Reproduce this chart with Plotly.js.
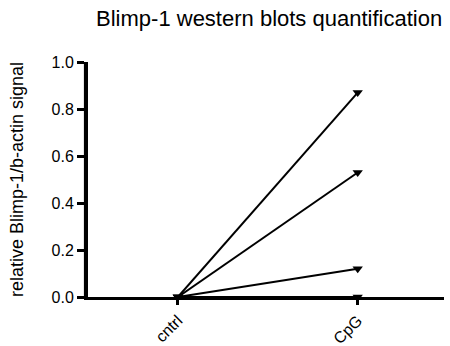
<!DOCTYPE html>
<html>
<head>
<meta charset="utf-8">
<script src="https://cdn.plot.ly/plotly-3.0.1.min.js"></script>
<style>
html,body{margin:0;padding:0;background:#fff;}
#chart{width:450px;height:346px;}
</style>
</head>
<body>
<div id="chart"></div>
<script>
var categories = ['cntrl', 'CpG'];
var cntrlValues = [0, 0, 0, 0];
var cpgValues = [0.87, 0.53, 0.12, 0.0];
var yTickVals = [0, 0.2, 0.4, 0.6, 0.8, 1.0];
var yTickText = ['0.0', '0.2', '0.4', '0.6', '0.8', '1.0'];

var traces = cntrlValues.map(function (c, i) {
  return {
    type: 'scatter',
    mode: 'lines+markers',
    x: categories,
    y: [c, cpgValues[i]],
    line: {color: '#000', width: 2},
    marker: {symbol: 'triangle-down', size: 9, color: '#000'},
    cliponaxis: false,
    showlegend: false
  };
});

var layout = {
  width: 450, height: 346,
  margin: {l: 88, r: 6, t: 62, b: 49},
  paper_bgcolor: '#fff', plot_bgcolor: '#fff',
  font: {family: 'Liberation Sans, Arial, sans-serif', color: '#000'},
  title: {text: 'Blimp-1 western blots quantification', font: {size: 22, color: '#000'}, x: 0.598, xanchor: 'center', y: 0.948, yanchor: 'middle'},
  xaxis: {
    type: 'category', range: [-0.5, 1.48],
    showline: true, linewidth: 3, linecolor: '#000',
    ticks: 'outside', ticklen: 5, tickwidth: 3, tickcolor: '#000',
    tickangle: -45, tickfont: {size: 16},
    showgrid: false, zeroline: false, fixedrange: true
  },
  yaxis: {
    range: [0, 1.0],
    tickvals: yTickVals, ticktext: yTickText,
    showline: true, linewidth: 4, linecolor: '#000',
    ticks: 'outside', ticklen: 7, tickwidth: 3, tickcolor: '#000',
    tickfont: {size: 16},
    showgrid: false, zeroline: false,
    title: {text: 'relative Blimp-1/b-actin signal', font: {size: 18}, standoff: 24}
  },
  shapes: [{
    type: 'rect', xref: 'paper', yref: 'paper', x0: -0.0115, x1: 0.0, y0: -0.006, y1: 1.0,
    fillcolor: '#000', line: {width: 0}, layer: 'above'
  }]
};

Plotly.newPlot('chart', traces, layout, {staticPlot: true});
</script>
</body>
</html>
